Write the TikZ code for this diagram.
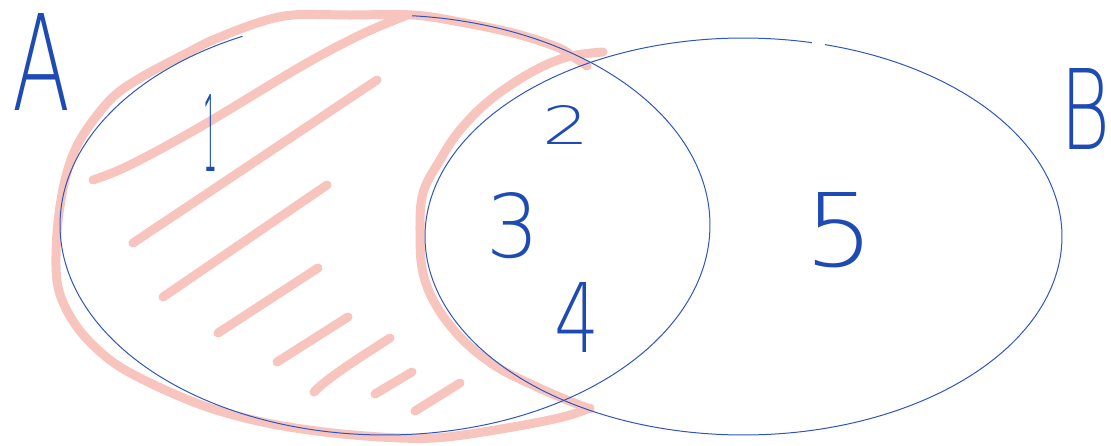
\documentclass[tikz,border=0pt]{standalone}
\usepackage{fontspec}
\usepackage{graphicx}
\newfontfamily\hand{DejaVu Sans ExtraLight}
\definecolor{inkblue}{HTML}{1D4BB3}
\definecolor{lineblue}{HTML}{2F55C0}
\definecolor{pinkhl}{HTML}{F8C4BE}
\begin{document}
\begin{tikzpicture}[x=1pt,y=-1pt,
  hl/.style={pinkhl, line width=9pt, line cap=round, line join=round},
  setline/.style={lineblue, line width=1pt},
  lbl/.style={inner sep=0pt, text=inkblue, font=\hand}]
\useasboundingbox (0,0) rectangle (1111,445);
% pink highlight of A minus B
\draw[hl] plot[smooth, tension=0.55] coordinates {(587,66) (575,58) (557,47) (513,33) (460,22) (413,15) (350,15) (293,15) (257,23) (213,40) (187,53) (140,78) (110,100) (80,140) (65,180) (57,233) (58,287) (77,327) (110,360) (150,383) (207,407) (267,423) (333,433) (400,438) (447,437) (513,427) (563,417) (590,408)};
\draw[hl] plot[smooth, tension=0.6] coordinates {(603,52) (567,57) (530,73) (490,100) (460,130) (440,160) (423,193) (420,233) (423,273) (437,307) (463,340) (497,367) (537,387) (567,400) (590,409)};
% hatching
\draw[hl] plot[smooth, tension=0.6] coordinates {(93,180) (130,165) (200,127) (300,67) (360,35) (405,16)};
\draw[hl] (133,243) -- (377,80);
\draw[hl] (163,297) -- (327,185);
\draw[hl] (218,333) -- (318,268);
\draw[hl] (277,362) -- (348,317);
\draw[hl] plot[smooth, tension=0.5] coordinates {(314,392) (325,382) (350,364) (390,338)};
\draw[hl] (375,394) -- (412,372);
\draw[hl] (415,411) -- (460,383);
% set outlines
\draw[setline] plot[domain=274.8:604, samples=240, variable=\t] ({385+325*cos(\t)},{225+210*sin(\t)});
\draw[setline] plot[domain=284.8:642.4, samples=240, variable=\t] ({743.5+318.5*cos(\t)},{236.5+198.5*sin(\t)});
% labels
\node[lbl] (labA) at (42,61.5) {\resizebox{58pt}{97pt}{A}};
\node[lbl] (labB) at (1085,108.5) {\resizebox{50pt}{81pt}{B}};
\node[lbl] (n1) at (210,132.5) {\resizebox{14pt}{77pt}{1}};
\node[lbl] (n2) at (566.5,124.5) {\resizebox{47pt}{39pt}{2}};
\node[lbl] (n3) at (513.5,225.5) {\resizebox{53pt}{65pt}{3}};
\node[lbl] (n4) at (577.5,317) {\resizebox{45pt}{70pt}{4}};
\node[lbl] (n5) at (840,230) {\resizebox{70pt}{74pt}{5}};
\end{tikzpicture}
\end{document}
